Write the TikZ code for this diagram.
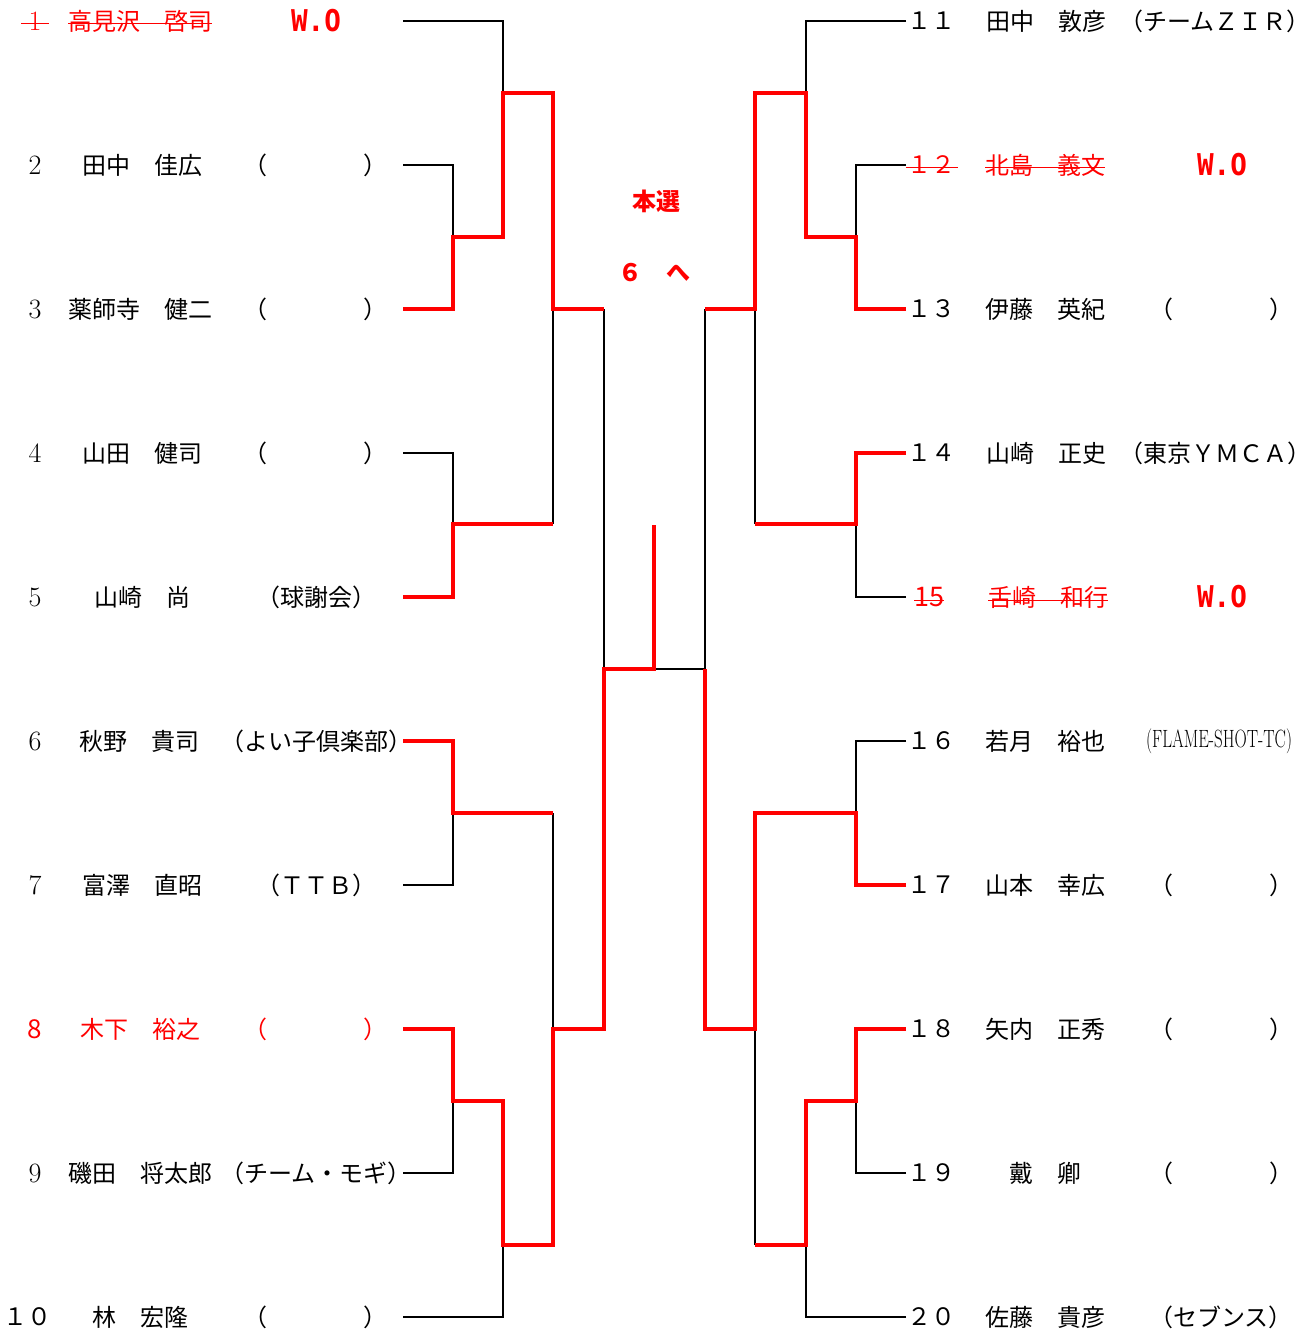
\documentclass[tikz,border=0pt]{standalone}
\usepackage{fontspec}
\usepackage{xcolor}
\usepackage{tikz}
\usetikzlibrary{positioning,calc}
\newfontfamily\jpfont{Noto Sans CJK JP}
\newfontfamily\wofont{DejaVu Sans Mono}

\begin{document}
\begin{tikzpicture}[
    x=1pt, y=-1pt,
    who/.style={anchor=west, inner sep=0pt, font=\jpfont\fontsize{24}{28}\selectfont},
    num/.style={inner sep=0pt, font=\fontsize{28}{32}\selectfont},
    wnum/.style={anchor=west, inner sep=0pt, font=\jpfont\fontsize{24}{28}\selectfont},
    club/.style={inner sep=0pt, font=\jpfont\fontsize{24}{28}\selectfont},
    wo/.style={inner sep=0pt, text=red, font=\wofont\bfseries\fontsize{30}{34}\selectfont},
    mid/.style={inner sep=0pt, text=red, font=\jpfont\bfseries\fontsize{24}{28}\selectfont},
    bline/.style={draw=black, line width=1.5pt},
    win/.style={draw=red, line width=4pt},
    strike/.style={draw=red, line width=1pt}
]
    \fill [white] (0,0) rectangle (1312,1334);
    \useasboundingbox (0,0) rectangle (1312,1334);

    \foreach \i in {1,...,10} {
        \pgfmathtruncatemacro\j{\i+10}
        \coordinate (L\i) at (403,{21+144*(\i-1)});
        \coordinate (R\j) at (906,{21+144*(\i-1)});
    }
    \coordinate (top) at (654,525);

    % left block
    \node [num, text=red] (n1) at (35,21) {1};
    \node [who, text=red] (p1) at (68,21) {高見沢　啓司};
    \node [wo] (c1) at (316,21) {\scalebox{0.92}[1]{W.O}};
    \node [num] (n2) at (35,165) {2};
    \node [who] (p2) at (82,165) {田中　佳広};
    \node [club] (c2) at (315,165) {（　　　　）};
    \node [num] (n3) at (35,309) {3};
    \node [who] (p3) at (68,309) {薬師寺　健二};
    \node [club] (c3) at (315,309) {（　　　　）};
    \node [num] (n4) at (35,453) {4};
    \node [who] (p4) at (82,453) {山田　健司};
    \node [club] (c4) at (315,453) {（　　　　）};
    \node [num] (n5) at (35,597) {5};
    \node [who] (p5) at (94,597) {山崎　尚};
    \node [club] (c5) at (316,597) {（球謝会）};
    \node [num] (n6) at (35,741) {6};
    \node [who] (p6) at (79,741) {秋野　貴司};
    \node [club] (c6) at (316,741) {（よい子倶楽部）};
    \node [num] (n7) at (35,885) {7};
    \node [who] (p7) at (82,885) {富澤　直昭};
    \node [club] (c7) at (316,885) {（ＴＴＢ）};
    \node [num, text=red, font=\jpfont\fontsize{26}{30}\selectfont] (n8) at (35,1029) {8};
    \node [who, text=red] (p8) at (80,1029) {木下　裕之};
    \node [club, text=red] (c8) at (315,1029) {（　　　　）};
    \node [num] (n9) at (35,1173) {9};
    \node [who] (p9) at (68,1173) {磯田　将太郎};
    \node [club] (c9) at (316,1173) {（チーム・モギ）};
    \node [club] (n10) at (27,1317) {１０};
    \node [who] (p10) at (92,1317) {林　宏隆};
    \node [club] (c10) at (315,1317) {（　　　　）};

    % right block
    \node [wnum] (n11) at (907,21) {１１};
    \node [who] (p11) at (986,21) {田中　敦彦};
    \node [club] (c11) at (1215,21) {（チームＺＩＲ）};
    \node [wnum, text=red] (n12) at (907,165) {１２};
    \node [who, text=red] (p12) at (985,165) {北島　義文};
    \node [wo] (c12) at (1222,165) {\scalebox{0.92}[1]{W.O}};
    \node [wnum] (n13) at (907,309) {１３};
    \node [who] (p13) at (985,309) {伊藤　英紀};
    \node [club] (c13) at (1221,309) {（　　　　）};
    \node [wnum] (n14) at (907,453) {１４};
    \node [who] (p14) at (986,453) {山崎　正史};
    \node [club] (c14) at (1215,453) {（東京ＹＭＣＡ）};
    \node [wnum, text=red, font=\jpfont\fontsize{27}{30}\selectfont] (n15) at (914,597) {15};
    \node [who, text=red] (p15) at (988,597) {舌崎　和行};
    \node [wo] (c15) at (1222,597) {\scalebox{0.92}[1]{W.O}};
    \node [wnum] (n16) at (907,741) {１６};
    \node [who] (p16) at (985,741) {若月　裕也};
    \node [club] (c16) at (1219,741) {\rmfamily\fontsize{25}{28}\selectfont\scalebox{0.68}[1]{(FLAME-SHOT-TC)}};
    \node [wnum] (n17) at (907,885) {１７};
    \node [who] (p17) at (985,885) {山本　幸広};
    \node [club] (c17) at (1221,885) {（　　　　）};
    \node [wnum] (n18) at (907,1029) {１８};
    \node [who] (p18) at (985,1029) {矢内　正秀};
    \node [club] (c18) at (1221,1029) {（　　　　）};
    \node [wnum] (n19) at (907,1173) {１９};
    \node [who] (p19) at (1009,1173) {戴　卿};
    \node [club] (c19) at (1221,1173) {（　　　　）};
    \node [wnum] (n20) at (907,1317) {２０};
    \node [who] (p20) at (985,1317) {佐藤　貴彦};
    \node [club] (c20) at (1221,1317) {（セブンス）};

    \node [mid] (hd) at (656,201) {本選};
    \node [mid] (to) at (654,273) {６　へ};

    % walkovers
    \draw [strike] ($(n1.west)+(-7,2)$) -- ($(n1.east)+(7,2)$);
    \draw [strike] ($(p1.west)+(0,2)$) -- ($(p1.east)+(0,2)$);
    \draw [strike] ($(n12.west)+(-1,2)$) -- ($(n12.east)+(3,2)$);
    \draw [strike] ($(p12.west)+(0,2)$) -- ($(p12.east)+(0,2)$);
    \draw [strike] ($(n15.west)+(0,3)$) -- ($(n15.east)+(0,3)$);
    \draw [strike] ($(p15.west)+(0,3)$) -- ($(p15.east)+(0,3)$);

    % bracket
    \draw [bline] (L1) -| (503,93);
    \draw [bline] (L2) -| (453,237);
    \draw [bline] (L4) -| (453,524);
    \draw [bline] (553,309) -- (553,524);
    \draw [bline] (604,309) -- (604,669);
    \draw [bline] (L7) -| (453,813);
    \draw [bline] (553,813) -- (553,1029);
    \draw [bline] (L9) -| (453,1101);
    \draw [bline] (L10) -| (503,1245);
    \draw [bline] (R11) -| (806,93);
    \draw [bline] (R12) -| (856,237);
    \draw [bline] (R15) -| (856,524);
    \draw [bline] (755,309) -- (755,524);
    \draw [bline] (654,669) -| (705,309);
    \draw [bline] (R16) -| (856,813);
    \draw [bline] (755,1029) -- (755,1245);
    \draw [bline] (R19) -| (856,1101);
    \draw [bline] (R20) -| (806,1245);

    \draw [win] (L3) -| (453,237) -| (503,93) -| (553,309) -- (604,309);
    \draw [win] (L5) -| (453,524) -- (553,524);
    \draw [win] (L6) -| (453,813) -- (553,813);
    \draw [win] (L8) -| (453,1101) -| (503,1245) -| (553,1029) -| (604,669) -| (top);
    \draw [win] (R13) -| (856,237) -| (806,93) -| (755,309) -- (705,309);
    \draw [win] (R14) -| (856,524) -- (755,524);
    \draw [win] (R17) -| (856,813) -| (755,1029) -| (705,669);
    \draw [win] (R18) -| (856,1101) -| (806,1245) -- (755,1245);
\end{tikzpicture}
\end{document}
